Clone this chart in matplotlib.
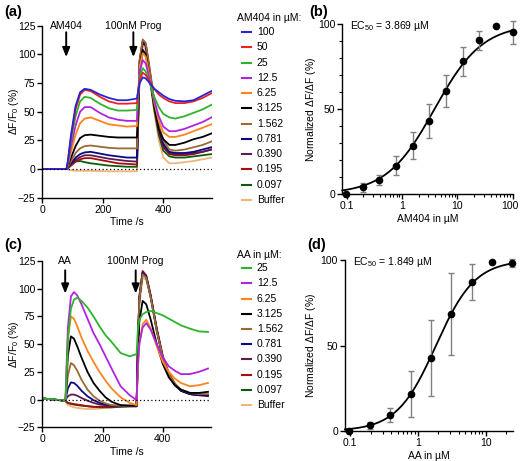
import numpy as np
import matplotlib
matplotlib.use('Agg')
import matplotlib.pyplot as plt
from matplotlib.lines import Line2D
from matplotlib.transforms import ScaledTranslation
from matplotlib.ticker import FixedLocator, NullFormatter, LogLocator, MultipleLocator

plt.rcParams['font.family'] = ['Liberation Sans', 'DejaVu Sans']
plt.rcParams['mathtext.fontset'] = 'custom'
plt.rcParams['mathtext.rm'] = 'Liberation Sans'
plt.rcParams['mathtext.it'] = 'Liberation Sans:italic'
plt.rcParams['mathtext.bf'] = 'Liberation Sans:bold'

# ---------------- data: panel (a) AM404 traces ----------------
time_a = [0, 80, 85, 95, 110, 125, 140, 160, 190, 220, 250, 280, 313, 315, 322, 332,
          342, 355, 370, 385, 400, 420, 440, 470, 500, 530, 559]
a_100 = [0, 0, 8, 30, 55, 67, 70, 69, 65, 62, 60, 60, 61.5, 65, 75, 80, 79, 75, 70, 67, 64, 61, 59.5, 59, 60, 64, 68]
a_50 = [0, 0, 7, 28, 52, 65, 69, 68, 63, 59, 57, 57, 57.5, 64, 78, 84, 82, 76, 70, 65, 62, 59, 57.5, 57.5, 59, 62, 66]
a_25 = [0, 0, 6, 25, 46, 59, 63, 62, 57, 53, 51, 51, 51.5, 60, 80, 88, 85, 75, 63, 54, 48, 45, 44, 46, 49, 52, 56]
a_12_5 = [0, 0, 5, 20, 38, 50, 54, 54, 49, 45, 43, 42, 42, 55, 85, 95, 92, 78, 60, 46, 37, 33, 33, 35, 38, 41, 45]
a_6_25 = [0, 0, 4, 15, 30, 40, 44, 45, 42, 39, 38, 37, 37.5, 55, 90, 101, 98, 80, 58, 42, 32, 28, 28, 30, 33, 36, 39]
a_3_125 = [0, 0, 3, 10, 20, 27, 29.5, 30, 29, 28, 27.5, 27.5, 27.5, 40, 90, 104, 100, 80, 55, 35, 26, 21, 21, 23, 26, 28, 31]
a_1_562 = [0, 0, 2, 7, 14, 18, 20, 20.5, 19.5, 18.5, 18, 18, 18, 35, 95, 113, 110, 88, 60, 38, 25, 17, 16, 17, 19, 21, 24]
a_0_781 = [0, 0, 2, 5, 10, 13, 14.5, 15, 13.5, 12, 11, 10, 10, 30, 95, 111, 108, 85, 58, 36, 22, 15, 14, 14, 15, 17, 19]
a_0_390 = [0, 0, 1.5, 4, 8, 10.5, 12, 12, 10.5, 9, 8, 7, 6.5, 28, 95, 112, 109, 86, 58, 35, 20, 14, 13, 13, 14, 15, 17]
a_0_195 = [0, 0, 1, 3, 6.5, 8.5, 9.5, 9.5, 8, 6.5, 5, 4.5, 4, 26, 93, 110, 107, 84, 56, 33, 19, 13, 12, 12, 13, 15, 17]
a_0_097 = [0, 0, 1, 3.5, 6.5, 7, 6, 5, 4, 3, 2.5, 2, 2, 22, 85, 103, 100, 80, 52, 30, 16, 11, 10, 10, 11, 12, 13]
a_buffer = [0, 0, -0.5, -1, -1.5, -1.5, -1.5, -1.5, -1.8, -2, -2, -2, -2, 20, 90, 108, 104, 80, 50, 25, 10, 5, 5, 6, 7, 8.5, 10]
a_labels = ['100', '50', '25', '12.5', '6.25', '3.125', '1.562', '0.781', '0.390', '0.195', '0.097', 'Buffer']

# ---------------- data: panel (c) AA traces ----------------
time_c = [0, 77, 80, 85, 95, 105, 116, 130, 150, 170, 190, 210, 230, 260, 290, 313, 317, 322, 333, 345,
          360, 380, 400, 420, 440, 460, 490, 520, 550]
c_25 = [1, -1, 20, 55, 82, 90, 92, 89, 83, 75, 66, 58, 52, 42, 39, 41, 62, 72, 77, 79, 80, 78, 76, 73, 70, 67, 64, 61.5, 61]
c_12_5 = [1, -1, 25, 65, 93, 97, 94, 86, 73, 60, 50, 39, 28, 12, 4, -0.5, 30, 50, 65, 69, 63, 50, 38, 30, 26, 23, 23, 25, 28]
c_6_25 = [1, -1, 22, 55, 75, 73, 66, 56, 44, 34, 25, 17, 10, 2, -3, -5, 25, 50, 68, 72, 64, 48, 34, 25, 19, 15, 12, 13, 15]
c_3_125 = [1, -1, 15, 40, 57, 55, 48, 38, 25, 15, 8, 2, -2, -5, -5.5, -5.5, 35, 70, 89, 86, 72, 50, 32, 20, 13, 9, 6, 6, 7]
c_1_562 = [1, -1, 8, 22, 33, 31, 26, 18, 9, 3, -1, -3.5, -5, -5.5, -5.5, -5.5, 45, 90, 113, 110, 92, 62, 38, 23, 14, 9, 6, 5, 5]
c_0_781 = [1, -1, 4, 10, 15.5, 15, 12.5, 8, 3, -0.5, -3, -4.5, -5.5, -5.5, -5.5, -5.5, 45, 90, 114, 111, 93, 63, 38, 23, 14, 8, 5, 4, 4]
c_0_390 = [1, -1, 1, 3, 4.5, 4.5, 3.5, 1.5, -1, -3, -4.5, -5, -5.5, -6, -6, -6, 45, 92, 115, 111, 93, 63, 38, 22, 13, 8, 5, 4, 3]
c_0_195 = [1, -1, -2, -3, -3.5, -4, -4.5, -5, -6, -6.5, -6.5, -6.5, -6.5, -6, -6, -6, 46, 93, 116, 112, 94, 64, 39, 23, 14, 8, 5, 4, 4]
c_0_097 = [1, -1, -2, -3, -4, -4.5, -5, -5.5, -6, -6.5, -7, -7, -7, -6.5, -6, -6, 44, 90, 114, 110, 92, 62, 37, 22, 13, 8, 5, 4, 4]
c_buffer = [1, -1, -3, -5, -6, -7, -7.5, -8, -8.5, -8.5, -8, -7.5, -7, -6.5, -6, -6, 40, 85, 110, 108, 92, 64, 40, 25, 15, 9, 5, 4, 4]
c_labels = ['25', '12.5', '6.25', '3.125', '1.562', '0.781', '0.390', '0.195', '0.097', 'Buffer']

# ---------------- data: dose-response ----------------
b_conc = [0.097, 0.195, 0.39, 0.781, 1.562, 3.125, 6.25, 12.5, 25, 50, 100]
b_mean = [0, 3.9, 8.4, 16.6, 28.5, 42.9, 60.4, 78, 90.3, 98.8, 95.1]
b_err = [0, 2.5, 3, 5.5, 8, 10, 9.5, 8.6, 5.3, 0, 6.8]
b_ec50, b_hill, b_bottom, b_top = 3.869, 1.0, 0.0, 100.0

d_conc = [0.097, 0.195, 0.39, 0.781, 1.562, 3.125, 6.25, 12.5, 25]
d_mean = [0, 3.3, 9.4, 21.6, 42.7, 68.4, 86.9, 98.6, 98.4]
d_err = [0, 2.1, 4.3, 13.5, 22, 24, 10.5, 0, 2.4]
d_ec50, d_hill, d_bottom, d_top = 1.849, 1.5, 0.0, 100.0

# ---------------- styles ----------------
colors = {'100': '#2424d8', '50': '#f02020', '25': '#2cb42c', '12.5': '#b024e0',
          '6.25': '#ff8420', '3.125': '#000000', '1.562': '#9a6a34', '0.781': '#0a0a80',
          '0.390': '#5e1a52', '0.195': '#a40e0e', '0.097': '#0c5a0c', 'Buffer': '#f2b47a'}
FS = 7.5
W, H = 520, 461

fig = plt.figure(figsize=(W / 100, H / 100), dpi=100)


def fx(px):
    return px / W


def fy(py):
    return 1 - py / H


def style_axes(ax):
    for s in ['top', 'right']:
        ax.spines[s].set_visible(False)
    for s in ['left', 'bottom']:
        ax.spines[s].set_linewidth(1.0)
    ax.tick_params(direction='out', length=3.5, width=1.0, labelsize=FS, pad=1.5)
    ax.tick_params(which='minor', direction='out', length=2, width=0.8)


def trace_panel(rect, t, series, labels, agent, agent_t, prog_t, arrow_top, arrow_tip):
    ax = fig.add_axes(rect)
    for lab, vals in reversed(list(zip(labels, series))):
        ax.plot(t, vals, color=colors[lab], lw=1.3, solid_joinstyle='round')
    ax.plot([0, 560], [0, 0], ls=(0, (1, 2)), color='k', lw=0.9)
    ax.set_xlim(0, 560)
    ax.set_ylim(-25, 125)
    ax.set_yticks([-25, 0, 25, 50, 75, 100, 125])
    ax.set_xticks([0, 200, 400])
    style_axes(ax)
    ax.set_xlabel('Time /s', fontsize=FS, labelpad=2)
    ax.set_ylabel(r'$\Delta$F/F$_0$ (%)', fontsize=FS, labelpad=2)
    ax.yaxis.set_label_coords(-0.128, 0.5)
    for txt, tx in [(agent, agent_t), ('100nM Prog', prog_t)]:
        ax.text(tx, 125, txt, ha='center', va='center', fontsize=FS, clip_on=False)
        ax.annotate('', xy=(tx, arrow_tip), xytext=(tx, arrow_top),
                    arrowprops=dict(arrowstyle='-|>,head_length=0.55,head_width=0.22',
                                    lw=1.4, color='k', shrinkA=0, shrinkB=0), annotation_clip=False)
    return ax


def legend_block(title, labels, x0, y_title, y_first, dy):
    fig.text(fx(x0), fy(y_title), title, fontsize=FS, ha='left', va='center')
    for i, lab in enumerate(labels):
        y = y_first + i * dy
        fig.add_artist(Line2D([fx(x0 + 4.5), fx(x0 + 13.5)], [fy(y), fy(y)],
                              color=colors[lab], lw=1.5, transform=fig.transFigure))
        fig.text(fx(x0 + 19.5), fy(y), lab, fontsize=FS, ha='left', va='center')


def dose_panel(rect, conc, mean, err, ec50, hill, bottom, top, xlim, xticks, xticklabels, xlabel,
               minor_y, ylab_x):
    ax = fig.add_axes(rect)
    xs = np.logspace(np.log10(xlim[0]), np.log10(xlim[1]), 300)
    ys = bottom + (top - bottom) / (1 + (ec50 / xs) ** hill)
    ax.plot(xs, ys, color='k', lw=1.3, clip_on=False)
    ax.errorbar(conc, mean, yerr=err, fmt='none', ecolor='#808080', elinewidth=1.0,
                capsize=2.2, capthick=1.0, clip_on=False)
    ax.plot(conc, mean, 'o', color='k', ms=4.5, clip_on=False, zorder=5)
    ax.set_xscale('log')
    ax.set_xlim(*xlim)
    ax.set_ylim(0, 100)
    ax.set_yticks([0, 50, 100])
    if minor_y:
        ax.yaxis.set_minor_locator(MultipleLocator(10))
    ax.xaxis.set_major_locator(FixedLocator(xticks))
    ax.set_xticklabels(xticklabels)
    ax.xaxis.set_minor_locator(LogLocator(base=10, subs=np.arange(2, 10)))
    ax.xaxis.set_minor_formatter(NullFormatter())
    style_axes(ax)
    ax.set_xlabel(xlabel, fontsize=FS, labelpad=2)
    ax.set_ylabel(r'Normalized $\Delta$F/$\Delta$F (%)', fontsize=FS, labelpad=2)
    ax.yaxis.set_label_coords(ylab_x, 0.5)
    ax.text(0.045, 0.99, r'EC$_{50}$ = %.3f µM' % ec50, transform=ax.transAxes,
            fontsize=FS, ha='left', va='center')
    return ax


# panel (a)
trace_panel([fx(42.3), fy(197.7), fx(211.7 - 42.3), (197.7 - 25.7) / H], time_a,
            [a_100, a_50, a_25, a_12_5, a_6_25, a_3_125, a_1_562, a_0_781, a_0_390, a_0_195, a_0_097, a_buffer],
            a_labels, 'AM404', 79, 301, 119.3, 97.6)
legend_block('AM404 in µM:', a_labels, 237.3, 18, 32, 15.27)

# panel (c)
trace_panel([fx(42.3), fy(427.3), fx(211 - 42.3), (427.3 - 261) / H], time_c,
            [c_25, c_12_5, c_6_25, c_3_125, c_1_562, c_0_781, c_0_390, c_0_195, c_0_097, c_buffer],
            c_labels, 'AA', 76, 310, 116.6, 95.6)
legend_block('AA in µM:', c_labels, 237.3, 255, 268.3, 15.19)

# panel (b)
ax_b = dose_panel([fx(342.3), fy(194), fx(513 - 342.3), (194 - 24) / H], b_conc, b_mean, b_err,
                  b_ec50, b_hill, b_bottom, b_top, (0.0834, 101), [0.1, 1, 10, 100],
                  ['0.1', '1', '10', '100'], 'AM404 in µM', True, -0.142)
# keep the last tick label inside the canvas
for lbl in ax_b.get_xticklabels():
    if lbl.get_text() == '100':
        lbl.set_transform(lbl.get_transform() + ScaledTranslation(-2.5 / 100, 0, fig.dpi_scale_trans))

# panel (d)
dose_panel([fx(345), fy(431), fx(513 - 345), (431 - 260) / H], d_conc, d_mean, d_err,
           d_ec50, d_hill, d_bottom, d_top, (0.0834, 25.5), [0.1, 1, 10], ['0.1', '1', '10'],
           'AA in µM', False, -0.16)

# panel letters
for lab, x, y in [('(a)', 4, 12), ('(b)', 309, 12), ('(c)', 4, 245), ('(d)', 307, 245)]:
    fig.text(fx(x), fy(y), lab, fontsize=10.5, fontweight='bold', ha='left', va='center')

fig.savefig('out.png', dpi=100)
